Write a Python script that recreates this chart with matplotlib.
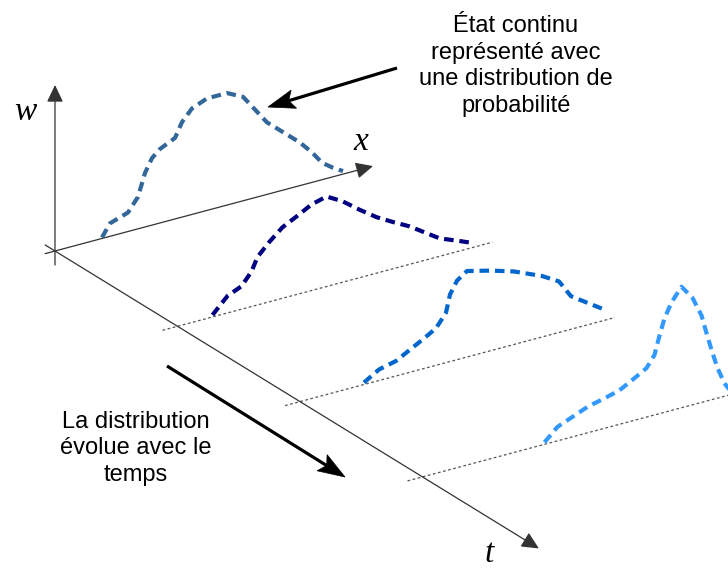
import numpy as np
import matplotlib
matplotlib.use("Agg")
import matplotlib.pyplot as plt
from matplotlib.patches import FancyArrowPatch, Polygon

# time slices and the distribution w(x) drawn at each of them
t_slices = [0, 1, 2, 3]
colors = ["#336699", "#000080", "#0066cc", "#3399ff"]

x_t0 = [47, 55, 73, 83, 90, 97, 105, 120, 127, 137, 152, 172, 188, 200, 212, 228, 245, 257, 267, 278, 288]
w_t0 = [1, 13, 19, 32, 54, 67, 74, 81, 95, 106, 112, 112, 104, 88, 72, 58, 43, 30, 17, 9, 3]

x_t1 = [35, 50, 64, 74, 80, 92, 105, 119, 134, 149, 165, 182, 199, 215, 232, 247, 262, 282, 294]
w_t1 = [2, 17, 23, 35, 48, 60, 71, 78, 86, 90, 81, 68, 56, 47, 38, 28, 18, 10, 5]

x_t2 = [64, 79, 96, 109, 122, 136, 146, 150, 157, 167, 191, 214, 242, 259, 271, 286, 304]
w_t2 = [2, 11, 15, 22, 29, 37, 50, 67, 79, 86, 80, 73, 61, 51, 33, 23, 11]

x_t3 = [122, 135, 150, 165, 182, 197, 210, 224, 232, 237, 242, 249, 259, 270, 279, 284, 289, 295, 302, 307]
w_t3 = [2, 14, 20, 26, 30, 34, 41, 49, 60, 78, 94, 108, 121, 107, 87, 68, 50, 30, 13, 5]

curves_x = [x_t0, x_t1, x_t2, x_t3]
curves_w = [w_t0, w_t1, w_t2, w_t3]

baseline_x = [-15, 315]

top_lines = ["État continu", "représenté avec", "une distribution de", "probabilité"]
bottom_lines = ["La distribution", "évolue avec le", "temps"]

# oblique projection of (x, w, t) onto the page (pixels, y down)
ORIGIN = np.array([55.0, 251.0])
XDIR = np.array([1.0, -0.267])
TDIR = np.array([122.5, 75.3])


def project(x, w, t):
    x = np.asarray(x, dtype=float)
    w = np.asarray(w, dtype=float)
    px = ORIGIN[0] + x * XDIR[0] + t * TDIR[0]
    py = ORIGIN[1] + x * XDIR[1] + t * TDIR[1] - w
    return px, py


def axis_arrow(ax, p0, p1):
    ar = FancyArrowPatch(p0, p1, arrowstyle="-|>,head_length=1.05,head_width=0.5",
                         mutation_scale=10, shrinkA=0, shrinkB=0,
                         color="#333333", lw=0.9, zorder=2)
    ax.add_patch(ar)


def stealth_arrow(ax, start, tip, head_len=27, head_w=19):
    start = np.array(start, float)
    tip = np.array(tip, float)
    d = (tip - start) / np.linalg.norm(tip - start)
    n = np.array([-d[1], d[0]])
    notch = tip - 0.8 * head_len * d
    ax.plot([start[0], notch[0]], [start[1], notch[1]], color="black", lw=2.3,
            solid_capstyle="butt", zorder=4)
    head = [tip, tip - head_len * d + 0.5 * head_w * n, notch,
            tip - head_len * d - 0.5 * head_w * n]
    ax.add_patch(Polygon(head, closed=True, fc="black", ec="black", lw=0.5, zorder=4))


fig = plt.figure(figsize=(7.28, 5.68), dpi=100)
ax = fig.add_axes([0, 0, 1, 1])
ax.set_xlim(0, 728)
ax.set_ylim(568, 0)
ax.axis("off")

# axes w, x, t
axis_arrow(ax, project(0, -14, 0), project(0, 166, 0))
axis_arrow(ax, project(-10, 0, 0), project(318, 0, 0))
axis_arrow(ax, project(0, 0, -0.08), project(0, 0, 3.95))

# dotted baselines at each later time
for t in t_slices[1:]:
    bx, by = project(baseline_x, [0, 0], t)
    ln, = ax.plot(bx, by, color="#555555", lw=0.9, zorder=1)
    ln.set_dashes((2.2, 2.0))

# distributions
for t, xs, ws, c in zip(t_slices, curves_x, curves_w, colors):
    px, py = project(xs, ws, t)
    ln, = ax.plot(px, py, color=c, lw=3.0, solid_joinstyle="round",
                  dash_capstyle="butt", zorder=3)
    ln.set_dashes((2.3, 1.4))

# axis labels
lab = dict(family="Liberation Serif", style="italic", fontsize=24, color="black",
           ha="center", va="baseline")
ax.text(25, 120, "w", **lab)
ax.text(361, 150, "x", **lab)
ax.text(489, 562, "t", **lab)

# annotations
txt = dict(family="Liberation Sans", fontsize=17, color="black", ha="center", va="baseline")
for i, s in enumerate(top_lines):
    ax.text(516, 32 + 26.7 * i, s, **txt)
for i, s in enumerate(bottom_lines):
    ax.text(136, 428 + 26.5 * i, s, **txt)

stealth_arrow(ax, (397, 68), (268, 107))
stealth_arrow(ax, (167, 366), (345, 477))

fig.savefig("out.png", dpi=100)
